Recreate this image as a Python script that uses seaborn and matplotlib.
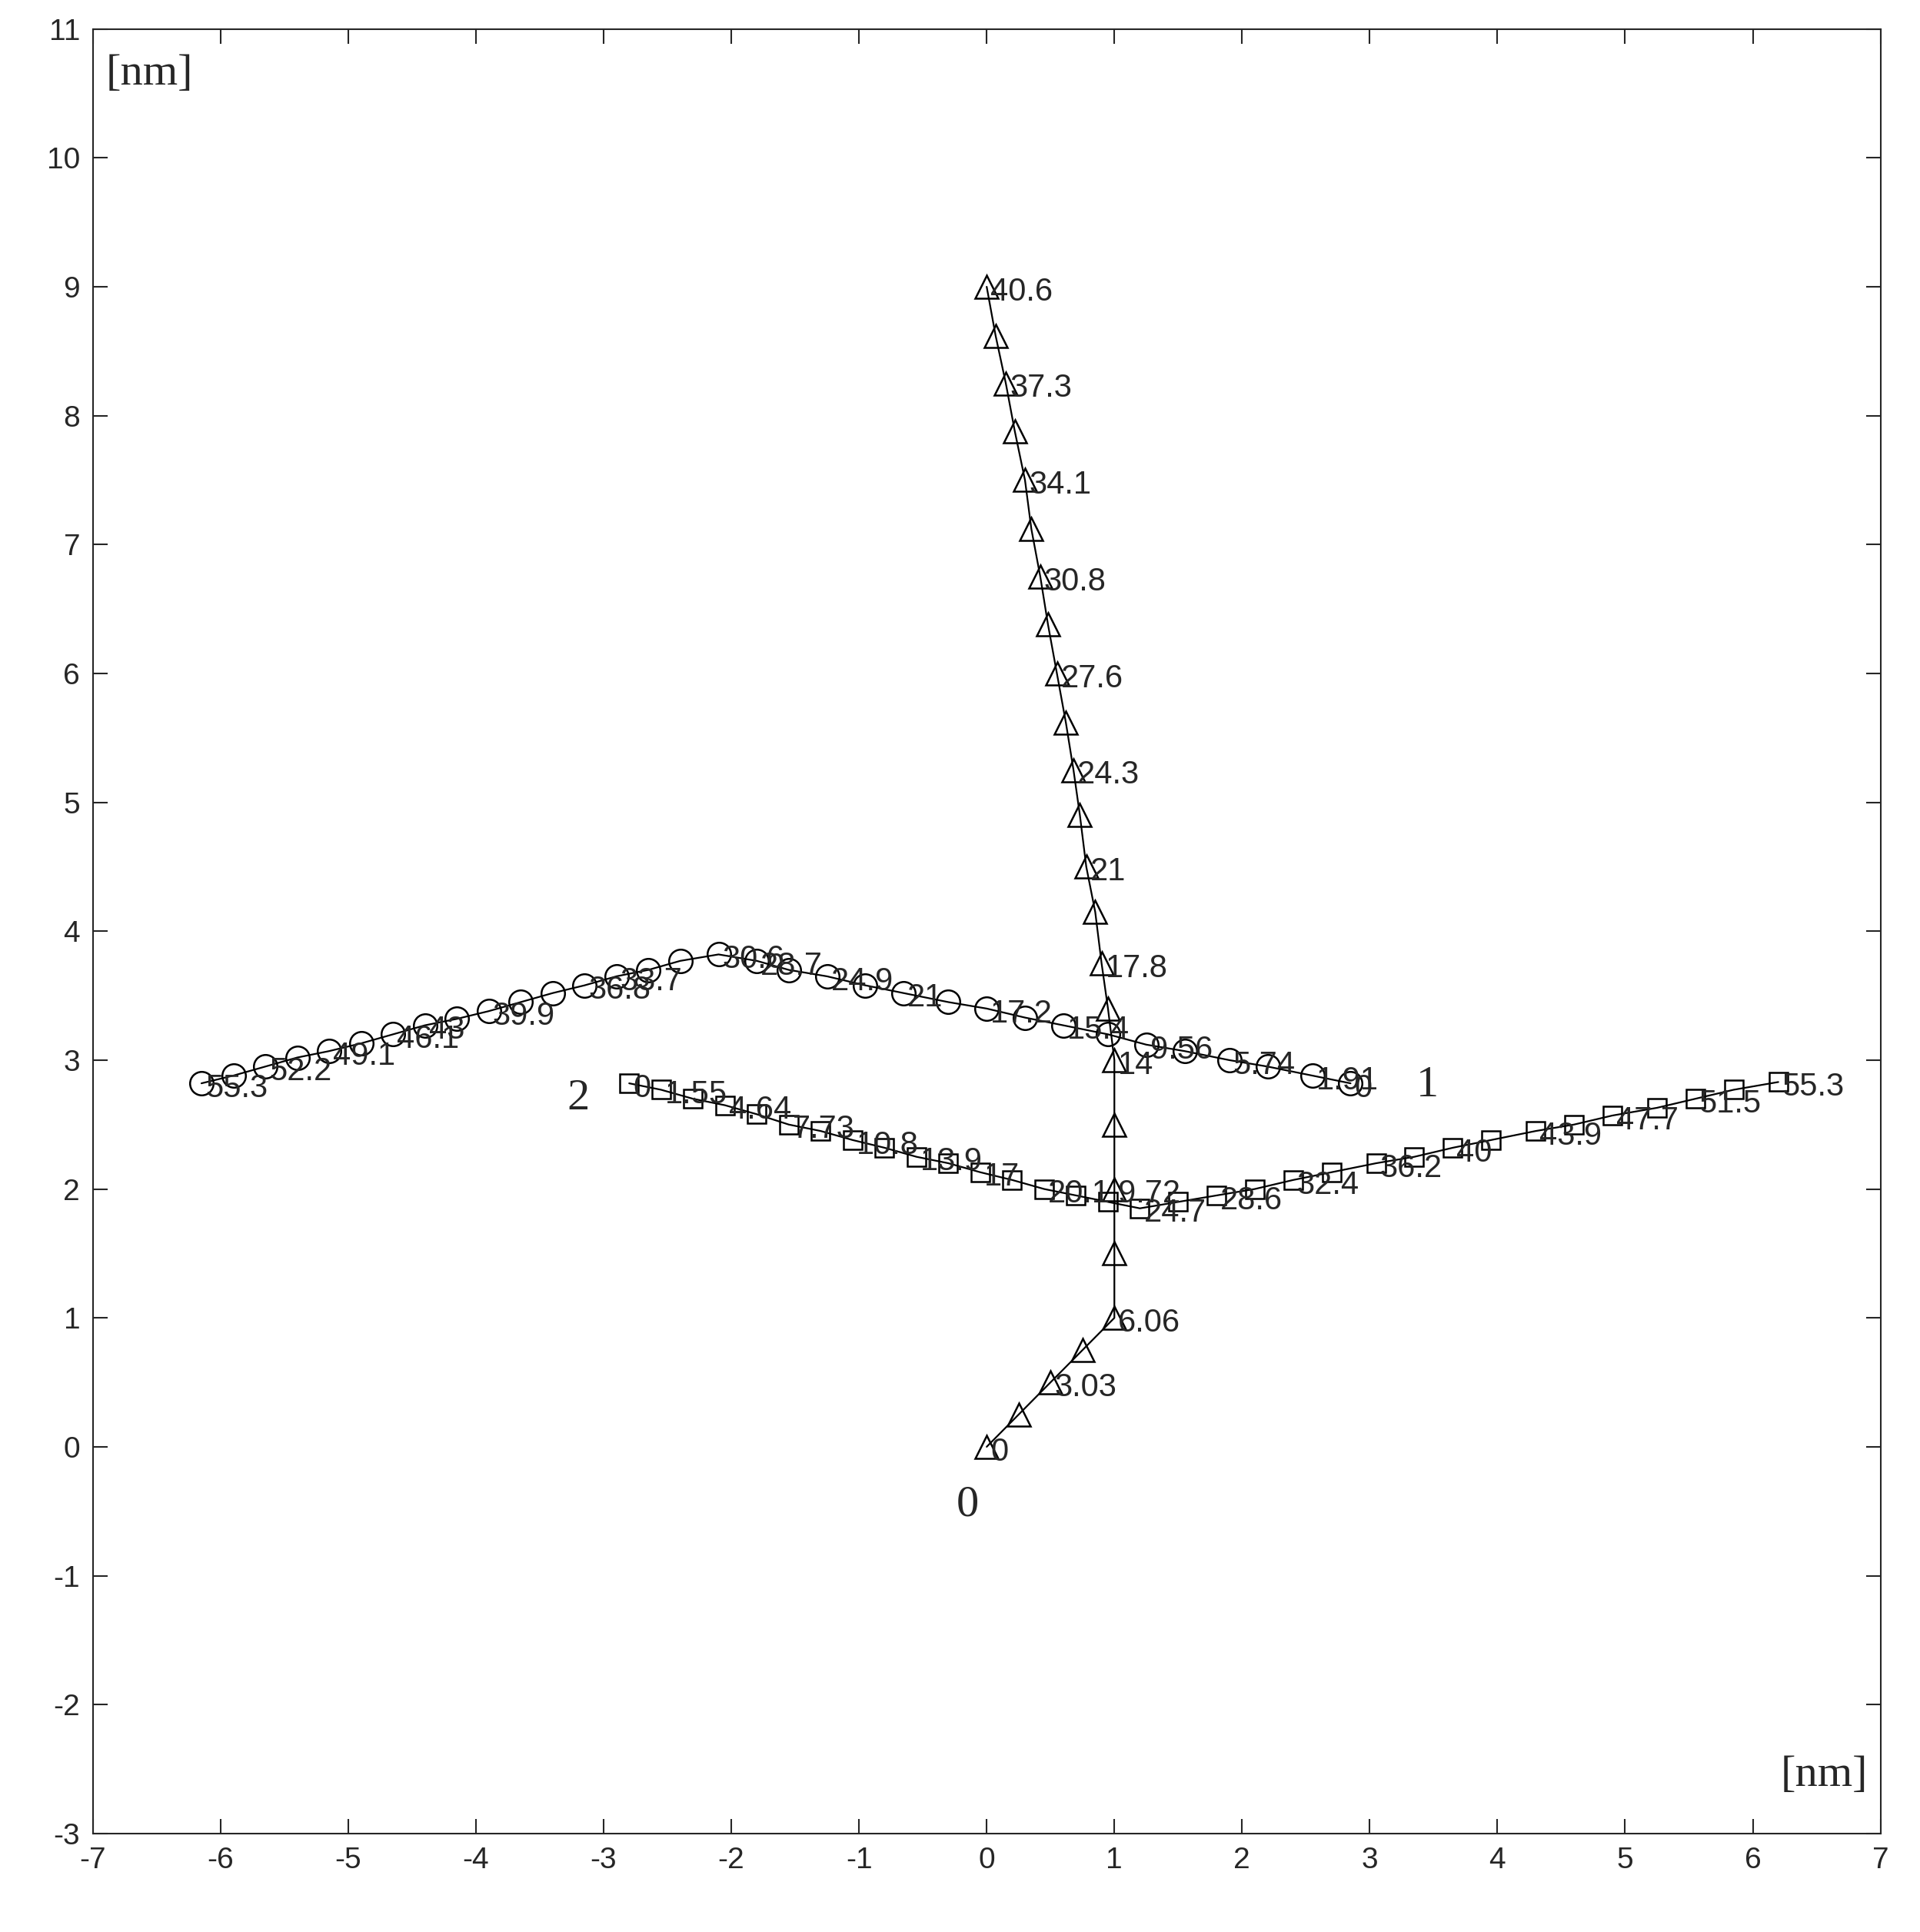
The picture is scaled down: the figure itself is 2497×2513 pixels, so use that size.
import matplotlib
matplotlib.use("Agg")
import matplotlib.pyplot as plt
import seaborn as sns
import pandas as pd

sns.set_theme(style="white")
plt.rcParams['font.family'] = ['Arial', 'Liberation Sans', 'DejaVu Sans']
plt.rcParams['axes.unicode_minus'] = False

tri_x = [0, 0.25, 0.5, 0.75, 1, 1, 1, 1, 1, 0.95, 0.9, 0.85, 0.78, 0.73, 0.68, 0.62, 0.55, 0.48, 0.42, 0.35, 0.3, 0.22, 0.15, 0.07, 0]
tri_y = [0, 0.25, 0.5, 0.75, 1, 1.5, 2, 2.5, 3, 3.4, 3.75, 4.15, 4.5, 4.9, 5.25, 5.62, 6.0, 6.38, 6.75, 7.12, 7.5, 7.88, 8.25, 8.62, 9.0]
tri_lab_idx = [0, 2, 4, 6, 8, 10, 12, 14, 16, 18, 20, 22, 24]
tri_lab = ["0", "3.03", "6.06", "9.72", "14", "17.8", "21", "24.3", "27.6", "30.8", "34.1", "37.3", "40.6"]

cir_x = [2.85, 2.55, 2.2, 1.9, 1.55, 1.25, 0.95, 0.6, 0.3, 0.0, -0.3, -0.65, -0.95, -1.25, -1.55, -1.8, -2.1,
         -2.4, -2.65, -2.9, -3.15, -3.4, -3.65, -3.9, -4.15, -4.4, -4.65, -4.9, -5.15, -5.4, -5.65, -5.9, -6.15]
cir_y = [2.82, 2.88, 2.95, 3.0, 3.07, 3.12, 3.2, 3.27, 3.33, 3.4, 3.45, 3.52, 3.58, 3.65, 3.7, 3.77, 3.82,
         3.77, 3.7, 3.65, 3.58, 3.52, 3.45, 3.38, 3.32, 3.27, 3.2, 3.13, 3.07, 3.02, 2.95, 2.88, 2.82]
cir_lab_idx = [0, 1, 3, 5, 7, 9, 11, 13, 15, 16, 19, 20, 23, 25, 26, 28, 30, 32]
cir_lab = ["0", "1.91", "5.74", "9.56", "15.4", "17.2", "21", "24.9", "28.7", "30.6", "33.7", "36.8",
           "39.9", "43", "46.1", "49.1", "52.2", "55.3"]

sq_x = [-2.8, -2.55, -2.3, -2.05, -1.8, -1.55, -1.3, -1.05, -0.8, -0.55, -0.3, -0.05, 0.2, 0.45, 0.7, 0.95,
        1.2, 1.5, 1.8, 2.1, 2.4, 2.7, 3.05, 3.35, 3.65, 3.95, 4.3, 4.6, 4.9, 5.25, 5.55, 5.85, 6.2]
sq_y = [2.82, 2.77, 2.7, 2.65, 2.58, 2.5, 2.45, 2.38, 2.32, 2.25, 2.2, 2.13, 2.07, 2.0, 1.95, 1.9,
        1.85, 1.9, 1.95, 2.0, 2.07, 2.13, 2.2, 2.25, 2.32, 2.38, 2.45, 2.5, 2.57, 2.63, 2.7, 2.77, 2.83]
sq_lab_idx = [0, 1, 3, 5, 7, 9, 11, 13, 16, 18, 20, 22, 24, 26, 28, 30, 32]
sq_lab = ["0", "1.55", "4.64", "7.73", "10.8", "13.9", "17", "20.1", "24.7", "28.6", "32.4", "36.2",
          "40", "43.9", "47.7", "51.5", "55.3"]

series_names = ["0", "1", "2"]
series_name_pos = [(-0.15, -0.45), (3.45, 2.8), (-3.2, 2.7)]

fig = plt.figure(figsize=(24.97, 25.13), dpi=100)
ax = fig.add_axes([0.0484, 0.051, 0.931, 0.934])

for xs, ys, mk, idx, labs in [(tri_x, tri_y, '^', tri_lab_idx, tri_lab),
                              (cir_x, cir_y, 'o', cir_lab_idx, cir_lab),
                              (sq_x, sq_y, 's', sq_lab_idx, sq_lab)]:
    df = pd.DataFrame({"x": xs, "y": ys})
    sns.lineplot(data=df, x="x", y="y", sort=False, estimator=None, ax=ax, color="black", lw=1.6,
                 marker=mk, markersize=22 if mk != 's' else 17, markerfacecolor="none",
                 markeredgecolor="black", markeredgewidth=1.8)
    for i, t in zip(idx, labs):
        ax.text(xs[i] + 0.03, ys[i] - 0.04, t, fontsize=30, ha="left", va="center")

for n, (px, py) in zip(series_names, series_name_pos):
    ax.text(px, py, n, fontsize=42, family=['Liberation Serif', 'DejaVu Serif'], ha="center", va="center")

ax.text(-6.9, 10.65, "[nm]", fontsize=42, family=['Liberation Serif', 'DejaVu Serif'], ha="left", va="center")
ax.text(6.9, -2.55, "[nm]", fontsize=42, family=['Liberation Serif', 'DejaVu Serif'], ha="right", va="center")

ax.set_xlim(-7, 7)
ax.set_ylim(-3, 11)
ax.set_xticks(range(-7, 8))
ax.set_yticks(range(-3, 12))
ax.set_xlabel("")
ax.set_ylabel("")
ax.tick_params(direction="in", length=14, width=1.5, labelsize=28, top=True, right=True,
               bottom=True, left=True, pad=12, colors="#262626")
for s in ax.spines.values():
    s.set_color("#262626")
    s.set_linewidth(1.5)

fig.savefig("out.png", dpi=100, facecolor="white")
